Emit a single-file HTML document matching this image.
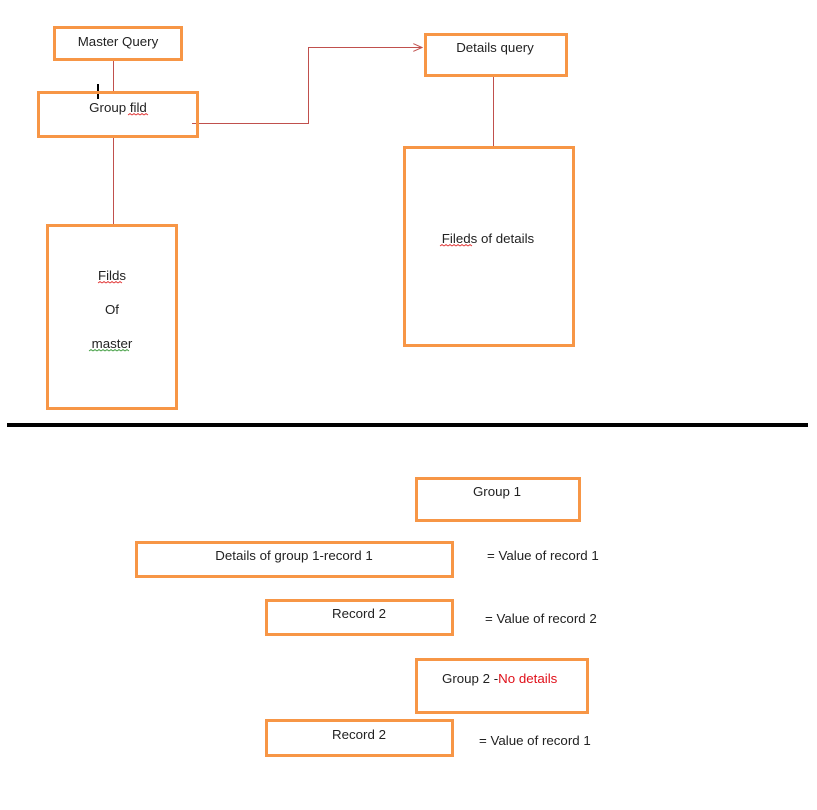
<!DOCTYPE html>
<html><head><meta charset="utf-8"><style>
html,body{margin:0;padding:0;background:#fff;width:817px;height:810px;overflow:hidden}
svg{display:block}
text{font-family:"Liberation Sans",sans-serif;font-size:13.3px;fill:#222}
</style></head><body>
<svg width="817" height="810" viewBox="0 0 817 810">
<defs><marker id="ar" markerWidth="10" markerHeight="8" refX="9" refY="4" orient="auto" markerUnits="userSpaceOnUse"><path d="M0,0 L9,4 L0,8" fill="none" stroke="#c0504d" stroke-width="1"/></marker></defs>
<g fill="none" stroke="#c0504d" stroke-width="1">
<line x1="113.5" y1="60" x2="113.5" y2="91"/>
<line x1="113.5" y1="137" x2="113.5" y2="224"/>
<polyline points="192,123.5 308.5,123.5 308.5,47.5 422,47.5" marker-end="url(#ar)"/>
<line x1="493.5" y1="76" x2="493.5" y2="146"/>
</g>
<line x1="98" y1="84" x2="98" y2="99" stroke="#000" stroke-width="2"/>
<g fill="none" stroke="#f79646" stroke-width="3">
<rect x="54.5" y="27.5" width="127" height="32"/>
<rect x="38.5" y="92.5" width="159" height="44"/>
<rect x="47.5" y="225.5" width="129" height="183"/>
<rect x="425.5" y="34.5" width="141" height="41"/>
<rect x="404.5" y="147.5" width="169" height="198"/>
<rect x="416.5" y="478.5" width="163" height="42"/>
<rect x="136.5" y="542.5" width="316" height="34"/>
<rect x="266.5" y="600.5" width="186" height="34"/>
<rect x="416.5" y="659.5" width="171" height="53"/>
<rect x="266.5" y="720.5" width="186" height="35"/>
</g>
<line x1="7" y1="425" x2="808" y2="425" stroke="#000" stroke-width="4"/>
<g text-anchor="middle">
<text x="118" y="46">Master Query</text>
<text x="118" y="112">Group fild</text>
<text x="112" y="280">Filds</text>
<text x="112" y="314">Of</text>
<text x="112" y="348">master</text>
<text x="495" y="52">Details query</text>
<text x="488" y="243">Fileds of details</text>
<text x="497" y="496">Group 1</text>
<text x="294" y="560">Details of group 1-record 1</text>
<text x="359" y="618">Record 2</text>
<text x="359" y="739">Record 2</text>
</g>
<text x="487" y="560">= Value of record 1</text>
<text x="485" y="623">= Value of record 2</text>
<text x="479" y="745">= Value of record 1</text>
<text x="442" y="683">Group 2 -<tspan fill="#e0101a">No details</tspan></text>
<g fill="none" stroke="#e03030" stroke-width="0.8">
<path d="M128,115 l2,-1.5 2,1.5 2,-1.5 2,1.5 2,-1.5 2,1.5 2,-1.5 2,1.5 2,-1.5 2,1.5"/>
<path d="M98,283 l2,-1.5 2,1.5 2,-1.5 2,1.5 2,-1.5 2,1.5 2,-1.5 2,1.5 2,-1.5 2,1.5 2,-1.5 2,1.5"/>
<path d="M440,246 l2,-1.5 2,1.5 2,-1.5 2,1.5 2,-1.5 2,1.5 2,-1.5 2,1.5 2,-1.5 2,1.5 2,-1.5 2,1.5 2,-1.5 2,1.5 2,-1.5 2,1.5"/>
</g>
<path d="M89,351 l2,-1.5 2,1.5 2,-1.5 2,1.5 2,-1.5 2,1.5 2,-1.5 2,1.5 2,-1.5 2,1.5 2,-1.5 2,1.5 2,-1.5 2,1.5 2,-1.5 2,1.5 2,-1.5 2,1.5 2,-1.5 2,1.5" fill="none" stroke="#3a9a3a" stroke-width="0.8"/>
</svg>
</body></html>
